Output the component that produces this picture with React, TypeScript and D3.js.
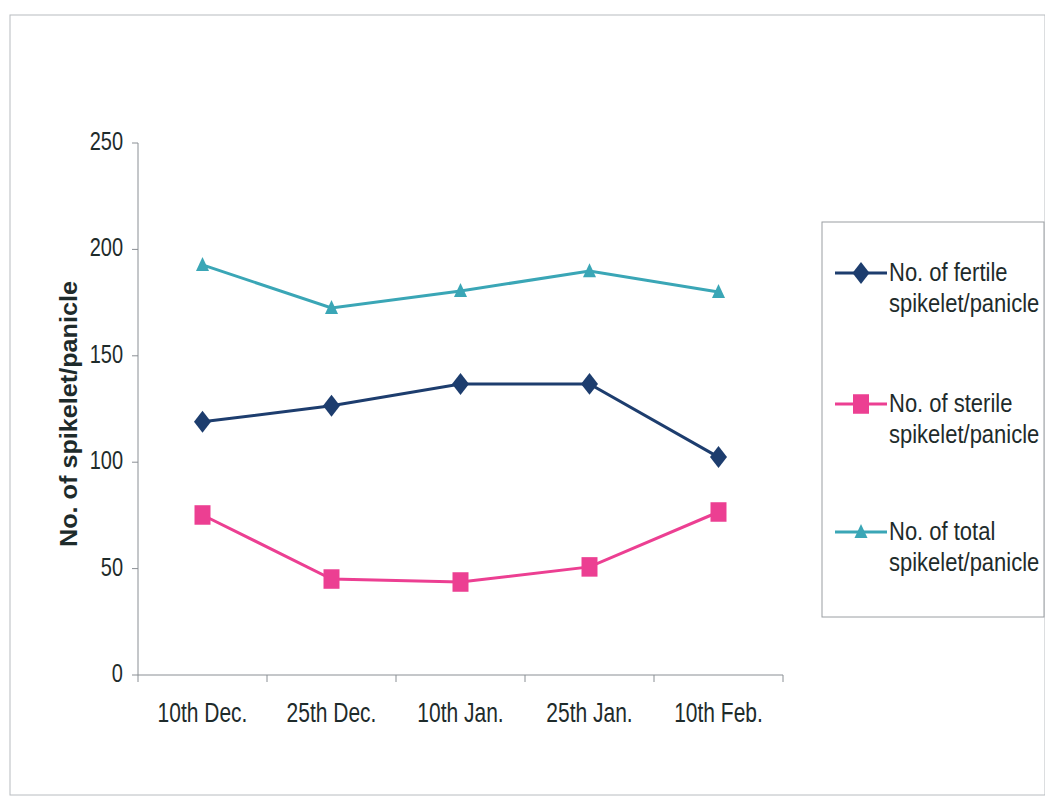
import React from "react";
import * as d3 from "d3";

const dates = ["10th Dec.", "25th Dec.", "10th Jan.", "25th Jan.", "10th Feb."];
const fertile = [119, 126.5, 136.7, 136.8, 102.4];
const sterile = [75.2, 45.1, 43.7, 50.8, 76.6];
const total = [192.7, 172.5, 180.5, 189.8, 180];
const yTicks = [0, 50, 100, 150, 200, 250];

const series = [
  { name: ["No. of fertile", "spikelet/panicle"], values: fertile, color: "#1d3d6e", shape: "diamond" },
  { name: ["No. of sterile", "spikelet/panicle"], values: sterile, color: "#ec3f92", shape: "square" },
  { name: ["No. of total", "spikelet/panicle"], values: total, color: "#3aa6b6", shape: "triangle" },
];

const W = 1045;
const H = 797;
const plot = { left: 138, right: 783, top: 143, bottom: 675 };
const font = "'Liberation Sans', Arial, sans-serif";
const textColor = "#1e2b2b";

const Marker = ({ shape, color, x, y }: { shape: string; color: string; x: number; y: number }) => {
  // scanned chart is a bit stretched vertically, so markers get scale(1,1.25)
  let d = "";
  if (shape === "diamond") d = "M0,-9 L8.5,0 L0,9 L-8.5,0 Z";
  else if (shape === "square") d = "M-8,-8 L8,-8 L8,8 L-8,8 Z";
  else d = "M0,-6.5 L6.5,5 L-6.5,5 Z";
  return <path d={d} fill={color} transform={`translate(${x},${y}) scale(1,1.22)`} />;
};

const App: React.FC = () => {
  const x = d3.scaleBand<string>().domain(dates).range([plot.left, plot.right]);
  const y = d3.scaleLinear().domain([0, 250]).range([plot.bottom, plot.top]);
  const cx = (d: string) => (x(d) ?? 0) + x.bandwidth() / 2;

  const line = d3
    .line<number>()
    .x((_, i) => cx(dates[i]))
    .y((v) => y(v));

  const legendY = [273, 404, 532];

  return (
    <svg
      width={W}
      height={H}
      style={{ position: "absolute", left: 0, top: 0, background: "#fff" }}
      fontFamily={font}
    >
      <rect x={10} y={15} width={W - 10} height={H - 17} fill="none" stroke="#b8bcc0" strokeWidth={1} />

      {/* y axis */}
      <line x1={plot.left} x2={plot.left} y1={plot.top} y2={plot.bottom} stroke="#8a8f94" strokeWidth={1} />
      {yTicks.map((t) => (
        <g key={t}>
          <line x1={plot.left - 6} x2={plot.left} y1={y(t)} y2={y(t)} stroke="#8a8f94" />
          <text
            transform={`translate(123,${y(t) + 7}) scale(1,1.3)`}
            textAnchor="end"
            fontSize={20}
            fill={textColor}
          >
            {t}
          </text>
        </g>
      ))}

      {/* x axis */}
      <line x1={plot.left} x2={plot.right} y1={plot.bottom} y2={plot.bottom} stroke="#8a8f94" strokeWidth={1} />
      {[...dates.map((d) => x(d) ?? 0), plot.right].map((px, i) => (
        <line key={i} x1={px} x2={px} y1={plot.bottom} y2={plot.bottom + 7} stroke="#8a8f94" />
      ))}
      {dates.map((d) => (
        <text
          key={d}
          transform={`translate(${cx(d)},722) scale(1,1.3)`}
          textAnchor="middle"
          fontSize={21}
          fill={textColor}
        >
          {d}
        </text>
      ))}

      {/* axis title */}
      <text
        transform={`translate(77,414) rotate(-90) scale(1.05,1)`}
        textAnchor="middle"
        fontSize={24}
        fontWeight="bold"
        fill={textColor}
      >
        No. of spikelet/panicle
      </text>

      {/* series */}
      {series.map((s) => (
        <g key={s.shape}>
          <path d={line(s.values) ?? ""} fill="none" stroke={s.color} strokeWidth={3} />
          {s.values.map((v, i) => (
            <Marker key={i} shape={s.shape} color={s.color} x={cx(dates[i])} y={y(v)} />
          ))}
        </g>
      ))}

      {/* legend */}
      <rect x={822} y={222} width={W - 823} height={395} fill="none" stroke="#9a9ea2" strokeWidth={1} />
      {series.map((s, i) => (
        <g key={s.shape}>
          <line x1={835} x2={887} y1={legendY[i]} y2={legendY[i]} stroke={s.color} strokeWidth={3} />
          <Marker shape={s.shape} color={s.color} x={861} y={legendY[i]} />
          <text transform={`translate(889,${legendY[i] + 8}) scale(1,1.2)`} fontSize={22} fill={textColor}>
            {s.name[0]}
          </text>
          <text transform={`translate(889,${legendY[i] + 39}) scale(1,1.2)`} fontSize={22} fill={textColor}>
            {s.name[1]}
          </text>
        </g>
      ))}
    </svg>
  );
};

export default App;
